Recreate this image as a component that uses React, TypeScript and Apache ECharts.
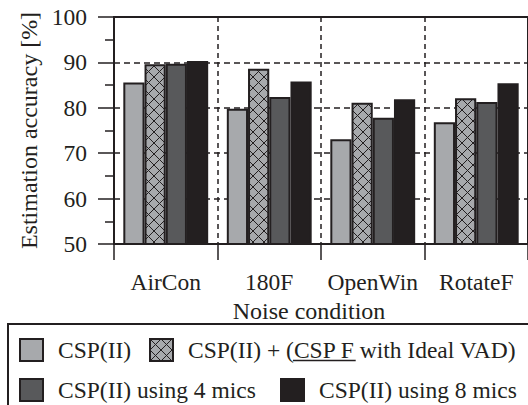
import React, { useEffect, useRef } from 'react';
import * as echarts from 'echarts';

const categories = ['AirCon', '180F', 'OpenWin', 'RotateF'];
const seriesNames = [
  'CSP(II)',
  'CSP(II) + (CSP F with Ideal VAD)',
  'CSP(II) using 4 mics',
  'CSP(II) using 8 mics',
];
const cspII = [85.6, 79.8, 73.1, 76.8];
const cspIdealVAD = [89.6, 88.6, 81.1, 82.1];
const csp4mics = [89.7, 82.4, 77.8, 81.3];
const csp8mics = [90.3, 85.8, 81.9, 85.4];
const yMin = 50;
const yMax = 100;
const yInterval = 10;

const INK = '#231f20';
const FONT = '"Liberation Serif", "Times New Roman", Times, serif';
const FS = 23.5;

function makeHatch(): HTMLCanvasElement {
  const s = 11;
  const c = document.createElement('canvas');
  c.width = s;
  c.height = s;
  const ctx = c.getContext('2d')!;
  ctx.fillStyle = '#a7a9ac';
  ctx.fillRect(0, 0, s, s);
  ctx.strokeStyle = INK;
  ctx.lineWidth = 1;
  for (const k of [-s, 0, s]) {
    ctx.beginPath();
    ctx.moveTo(k - 1, -1);
    ctx.lineTo(k + s + 1, s + 1);
    ctx.stroke();
    ctx.beginPath();
    ctx.moveTo(k + s + 1, -1);
    ctx.lineTo(k - 1, s + 1);
    ctx.stroke();
  }
  return c;
}

function textWidth(t: string): number {
  const c = document.createElement('canvas');
  const ctx = c.getContext('2d')!;
  ctx.font = FS + 'px ' + FONT;
  return ctx.measureText(t).width;
}

export default function App() {
  const ref = useRef<HTMLDivElement>(null);
  useEffect(() => {
    if (!ref.current) return;
    const chart = echarts.init(ref.current, null, { renderer: 'svg' });
    const hatch = { image: makeHatch(), repeat: 'repeat', imageWidth: 11, imageHeight: 11 };
    const fills = ['#a7a9ac', hatch, '#58595b', INK];
    const datas = [cspII, cspIdealVAD, csp4mics, csp8mics];
    const itemW = 23;
    const textPad = 10;
    const legendPos = [
      [19, 338],
      [149, 338],
      [19, 378],
      [280, 378],
    ];
    const legendBase = {
      orient: 'horizontal',
      padding: 0,
      itemWidth: itemW,
      itemHeight: 22,
      itemGap: 0,
      icon: 'rect',
      selectedMode: false,
      textStyle: { fontFamily: FONT, fontSize: FS, color: INK, padding: [0, 0, 0, textPad] },
      itemStyle: { borderColor: INK, borderWidth: 2 },
    };
    const l2TextX = legendPos[1][0] + itemW + 5 + textPad;
    const ulStart = l2TextX + textWidth('CSP(II) + (');
    const ulEnd = ulStart + textWidth('CSP F') + 2;
    const option: any = {
      animation: false,
      backgroundColor: '#fff',
      textStyle: { fontFamily: FONT, color: INK },
      grid: {
        left: 114,
        top: 17,
        width: 415,
        height: 227,
        show: true,
        borderColor: INK,
        borderWidth: 2,
        backgroundColor: 'transparent',
      },
      xAxis: {
        type: 'category',
        data: categories,
        name: 'Noise condition',
        nameLocation: 'middle',
        nameGap: 48,
        nameTextStyle: { fontFamily: FONT, fontSize: 24, color: INK, padding: [0, 24, 0, 0] },
        axisLine: { lineStyle: { color: INK, width: 2 } },
        axisTick: { show: true, length: 16, lineStyle: { color: INK, width: 1.5 } },
        axisLabel: { fontFamily: FONT, fontSize: FS, color: INK, margin: 26, interval: 0 },
        splitLine: { show: true, lineStyle: { color: INK, width: 1.5, type: [5, 4] } },
      },
      yAxis: {
        type: 'value',
        min: yMin,
        max: yMax,
        interval: yInterval,
        name: 'Estimation accuracy [%]',
        nameLocation: 'middle',
        nameRotate: 90,
        nameGap: 68,
        nameTextStyle: { fontFamily: FONT, fontSize: 24, color: INK },
        axisLine: { show: true, lineStyle: { color: INK, width: 2 } },
        axisTick: { show: true, length: 16, lineStyle: { color: INK, width: 1.5 } },
        minorTick: { show: true, splitNumber: 2, length: 9, lineStyle: { color: INK, width: 1.5 } },
        axisLabel: { fontFamily: FONT, fontSize: FS, color: INK, margin: 27 },
        splitLine: { show: true, lineStyle: { color: INK, width: 1.5, type: [6, 4] } },
      },
      legend: seriesNames.map((n, i) => ({
        ...legendBase,
        data: [n],
        left: legendPos[i][0],
        top: legendPos[i][1],
      })),
      series: datas.map((d, i) => ({
        name: seriesNames[i],
        type: 'bar',
        data: d,
        barGap: '0%',
        barCategoryGap: '18%',
        itemStyle: { color: fills[i], borderColor: INK, borderWidth: 2 },
      })),
      graphic: [
        {
          type: 'rect',
          silent: true,
          shape: { x: 8, y: 324, width: 700, height: 300 },
          style: { fill: 'transparent', stroke: INK, lineWidth: 2 },
        },
        {
          type: 'line',
          silent: true,
          shape: { x1: ulStart, y1: 360.5, x2: ulEnd, y2: 360.5 },
          style: { stroke: INK, lineWidth: 1.5 },
        },
      ],
    };
    chart.setOption(option);
    return () => chart.dispose();
  }, []);
  return (
    <div
      ref={ref}
      style={{ position: 'absolute', left: 0, top: 0, width: 528, height: 405, background: '#fff' }}
    />
  );
}
